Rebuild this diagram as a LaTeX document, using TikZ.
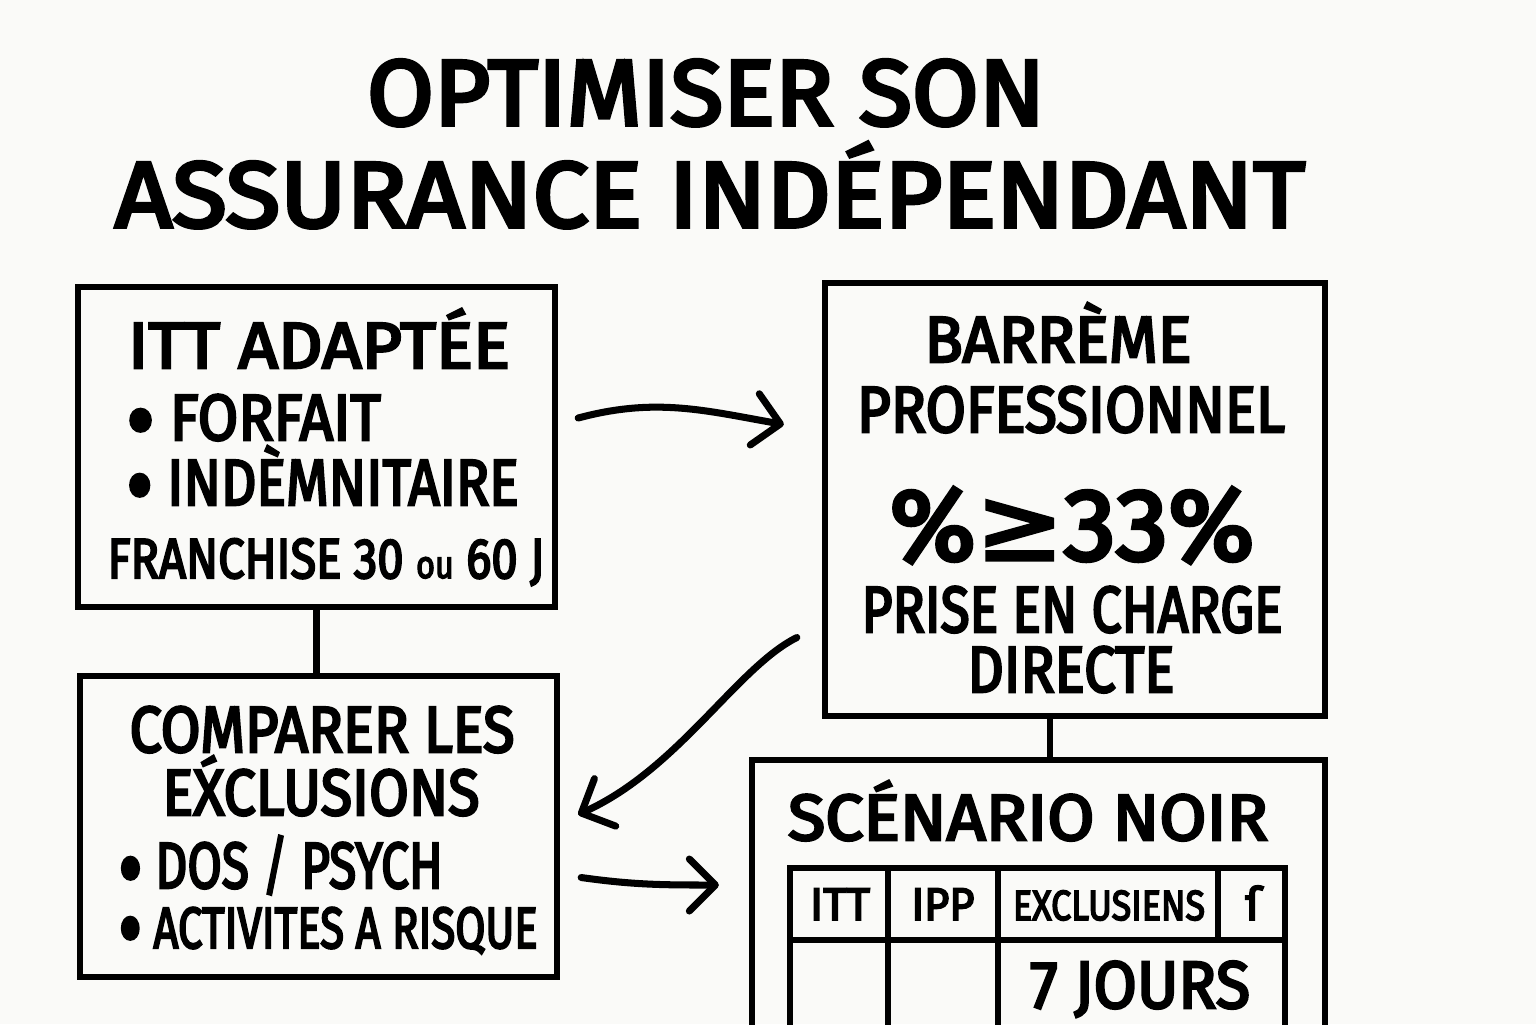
\documentclass[tikz,border=0pt]{standalone}
\usepackage{fontspec}
\setmainfont{Fira Sans}[FakeBold=4]
\newfontfamily\symfont{DejaVu Sans}[FakeBold=3]
\usetikzlibrary{arrows.meta,calc}
\definecolor{paper}{RGB}{250,250,248}
\newcommand{\fs}[1]{\fontsize{#1}{#1}\selectfont}
\newcommand{\larg}[2]{\resizebox{#1cm}{\height}{#2}}
\newcommand{\pt}{\raisebox{-3.6pt}[0pt][0pt]{\fs{27}•}}
\tikzset{
  boite/.style={draw,line width=1.8pt,inner sep=0pt},
  txt/.style={inner sep=0pt,anchor=base,font=\fs{18.5}},
  puce/.style={txt,anchor=base west},
  trait/.style={line width=1.8pt},
  fleche/.style={line width=2pt,line cap=round,line join=round,
    -{Straight Barb[length=2.6mm,width=5.2mm,line width=2pt,round]}}
}

\begin{document}
\begin{tikzpicture}
  \clip (0,0) rectangle (15.36,-10.24);
  \fill[paper] (0,0) rectangle (15.36,-10.24);
  % titre
  \node[txt,font=\fs{26.5}] (titre1) at (7.06,-1.25) {\larg{6.78}{OPTIMISER SON}};
  \node[txt,font=\fs{26.5}] (titre2) at (7.10,-2.27) {\larg{11.9}{ASSURANCE INDÉPENDANT}};
  % boites
  \node[boite,minimum width=4.77cm,minimum height=3.20cm] (itt) at (3.165,-4.47) {};
  \node[boite,minimum width=4.77cm,minimum height=3.01cm] (comparer) at (3.185,-8.265) {};
  \node[boite,minimum width=5.00cm,minimum height=4.33cm] (bareme) at (10.75,-4.995) {};
  \node[boite,minimum width=5.73cm,minimum height=3.00cm] (scenario) at (10.385,-9.10) {};
  % textes
  \node[txt] (itt1) at (3.19,-3.68) {\larg{3.82}{ITT ADAPTÉE}};
  \node[puce] (itt2) at (1.26,-4.40) {\larg{2.54}{\pt\ FORFAIT}};
  \node[puce] (itt3) at (1.26,-5.05) {\larg{3.92}{\pt\ INDÈMNITAIRE}};
  \node[txt,font=\fs{16}] (itt4) at (3.26,-5.78) {\larg{4.37}{FRANCHISE 30 {\fs{11}ou} 60 J}};
  \node[txt] (cmp1) at (3.22,-7.52) {\larg{3.85}{COMPARER LES}};
  \node[txt] (cmp2) at (3.21,-8.15) {\larg{3.17}{EX́CLUSIONS}};
  \node[puce] (cmp3) at (1.18,-8.88) {\larg{3.24}{\pt\ DOS / PSYCH}};
  \node[puce,font=\fs{16.5}] (cmp4) at (1.18,-9.48) {\larg{4.19}{\pt\ ACTIVITES A RISQUE}};
  \node[txt] (bar1) at (10.58,-3.62) {\larg{2.67}{BARRÈME}};
  \node[txt] (bar2) at (10.71,-4.32) {\larg{4.28}{PROFESSIONNEL}};
  \node[txt,font=\fs{29}] (bar3) at (10.72,-5.60) {\larg{3.65}{\%{\symfont ≥}33\%}};
  \node[txt] (bar4) at (10.72,-6.32) {\larg{4.21}{PRISE EN CHARGE}};
  \node[txt] (bar5) at (10.71,-6.92) {\larg{2.07}{DIRECTE}};
  \node[txt] (scn1) at (10.28,-8.40) {\larg{4.80}{SCÉNARIO NOIR}};
  % tableau
  \draw[trait] (7.90,-10.6) |- (12.85,-8.68) -- (12.85,-10.6);
  \draw[trait] (7.90,-9.40) -- (12.85,-9.40);
  \draw[trait] (8.88,-8.68) -- (8.88,-10.6) (9.98,-8.68) -- (9.98,-10.6) (12.18,-8.68) -- (12.18,-9.40);
  \node[txt,font=\fs{13}] (col1) at (8.40,-9.20) {\larg{0.60}{ITT}};
  \node[txt,font=\fs{13}] (col2) at (9.43,-9.20) {\larg{0.63}{IPP}};
  \node[txt,font=\fs{12}] (col3) at (11.09,-9.20) {\larg{1.92}{EXCLUSIENS}};
  \node[txt,font=\fs{13}] (col4) at (12.53,-9.20) {ſ};
  \node[txt,font=\fs{19}] (jours) at (11.40,-10.08) {\larg{2.20}{7 JOURS}};
  % liaisons
  \draw[trait] (itt.south) -- (itt.south |- comparer.north);
  \draw[trait] ([xshift=-2.5mm]bareme.south) -- ([xshift=-2.5mm]bareme.south |- scenario.north);
  \draw[fleche] ($(itt.east)+(0.20,0.29)$) to[out=15,in=170] ($(bareme.west)+(-0.38,0.75)$);
  \draw[fleche] ($(bareme.west)+(-0.25,-1.38)$) .. controls +(-0.6,-0.3) and +(1.0,0.45) .. ($(comparer.east)+(0.18,0.12)$);
  \draw[fleche] ($(comparer.east)+(0.21,-0.51)$) to[out=-8,in=180] ($(scenario.west)+(-0.30,0.25)$);
\end{tikzpicture}
\end{document}
